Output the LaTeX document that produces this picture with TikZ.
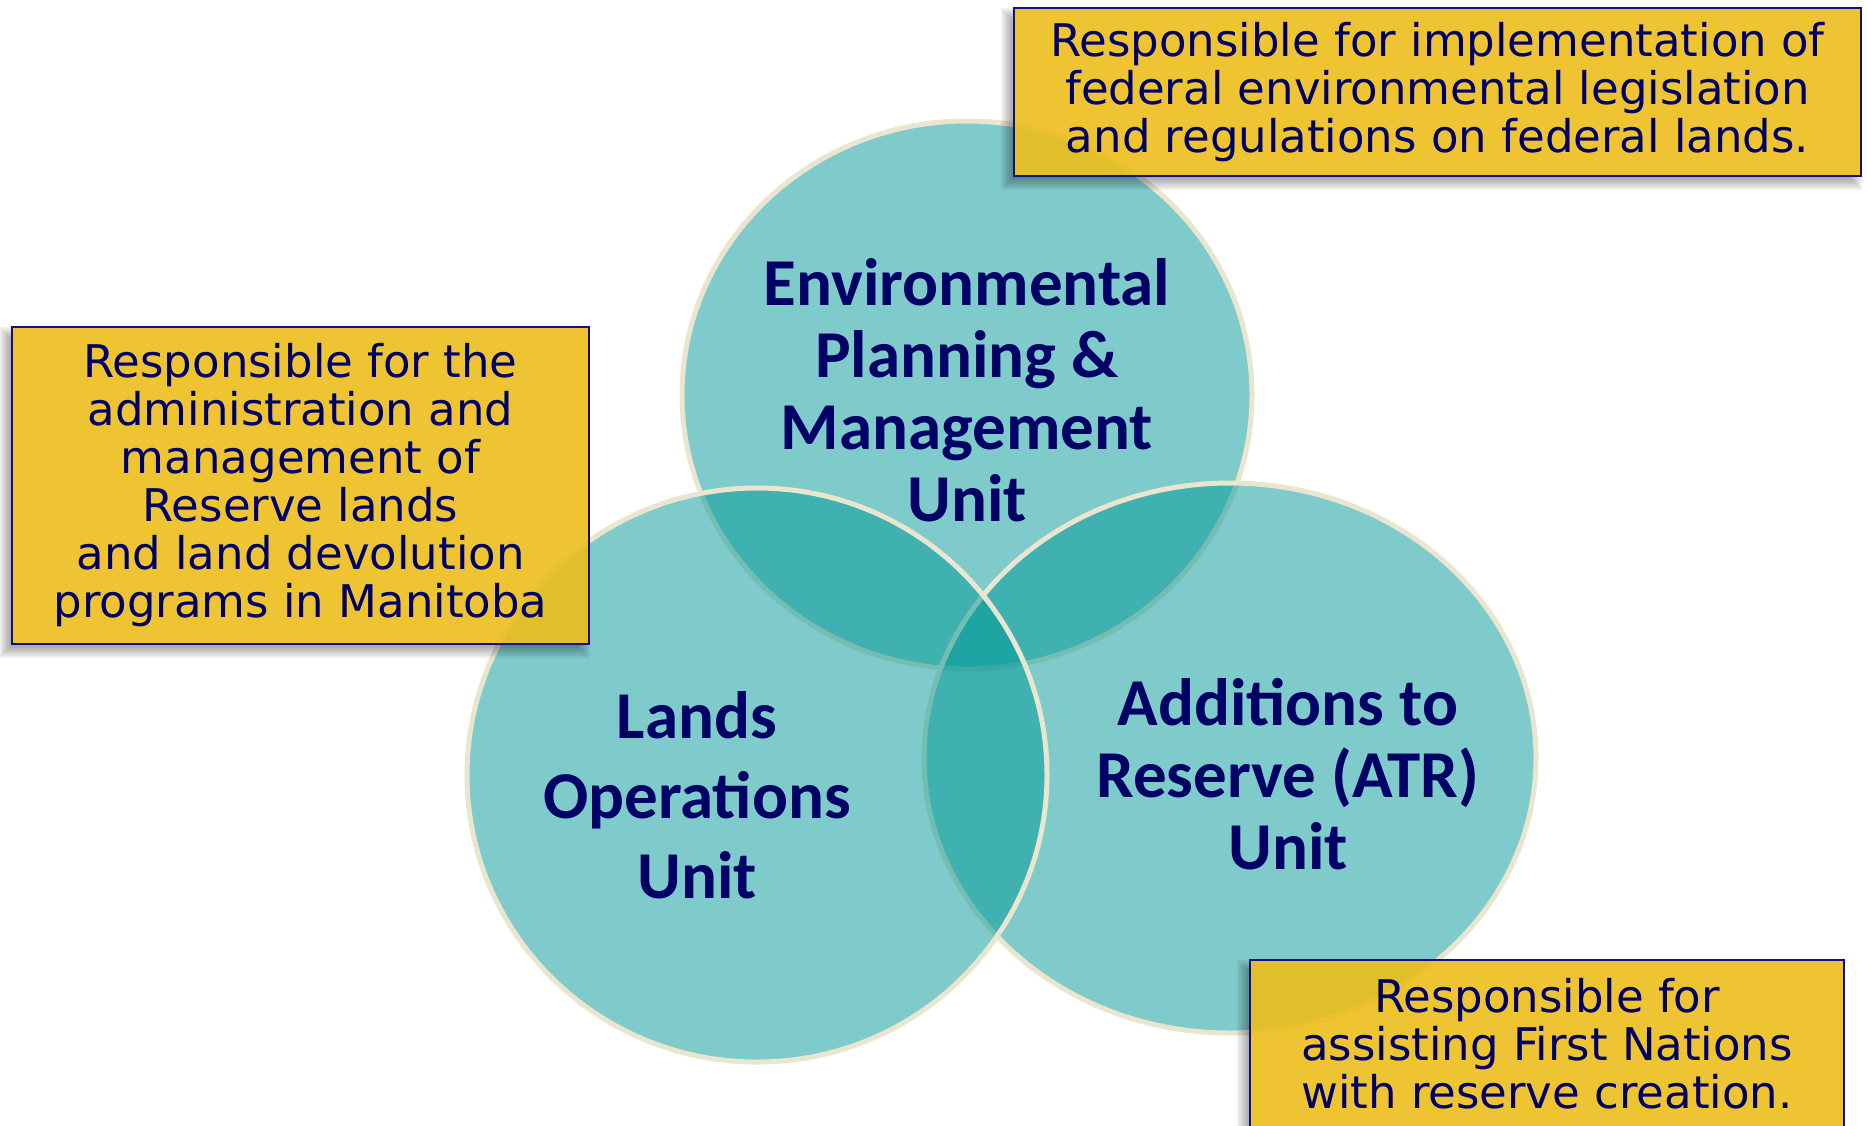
\documentclass[tikz,border=0pt]{standalone}
\usepackage{fontspec}
\setmainfont{DejaVu Sans}
\newfontfamily\calibrifont{Carlito}
\usetikzlibrary{shapes.geometric}
\pgfdeclarelayer{back}
\pgfdeclarelayer{mid}
\pgfsetlayers{back,mid,main}
\definecolor{tealbase}{RGB}{0,151,151}
\definecolor{rimcol}{RGB}{233,229,206}
\definecolor{navytext}{RGB}{0,0,102}
\definecolor{boxyellow}{RGB}{236,190,28}
\definecolor{boxline}{RGB}{16,16,140}
\tikzset{
  venn/.style={ellipse, inner sep=0pt, outer sep=0pt, fill=tealbase, fill opacity=0.5, draw=rimcol, draw opacity=1, line width=5pt},
  unitlabel/.style={align=center, text=navytext, inner sep=0pt, font=\calibrifont\bfseries\fontsize{67pt}{72pt}\selectfont},
  infobox/.style={rectangle, draw=boxline, line width=2pt, fill=boxyellow, fill opacity=0.9, text opacity=1, text=navytext, align=center, inner sep=0pt, font=\fontsize{45pt}{48pt}\selectfont},
}
\begin{document}
\begin{tikzpicture}[x=1pt,y=-1pt]
\useasboundingbox (0,0) rectangle (1867,1125);
\begin{pgfonlayer}{back}
\node[venn, minimum width=570pt, minimum height=548pt] (envc) at (967,395) {};
\node[venn, minimum width=612pt, minimum height=550pt] (atrc) at (1230,758) {};
\node[venn, minimum width=580pt, minimum height=574pt] (landc) at (757,775) {};
\end{pgfonlayer}

\node[unitlabel] (envl) at (967,390) {Environmental\\Planning \&\\Management\\Unit};
\node[unitlabel, font=\calibrifont\bfseries\fontsize{67pt}{80pt}\selectfont] (landl) at (697,795) {Lands\\Operations\\Unit};
\node[unitlabel] (atrl) at (1288,774) {Additions to\\Reserve (ATR)\\Unit};

\node[infobox, minimum width=847pt, minimum height=168pt] (boxenv) at (1437.5,92) {Responsible for implementation of\\federal environmental legislation\\and regulations on federal lands.};
\node[infobox, minimum width=577pt, minimum height=317pt] (boxland) at (300.5,485.5) {Responsible for the\\administration and\\management of\\Reserve lands\\and land devolution\\programs in Manitoba};
\node[infobox, minimum width=594pt, minimum height=168pt] (boxatr) at (1547,1044) {Responsible for\\assisting First Nations\\with reserve creation.};

\begin{pgfonlayer}{mid}
\foreach \b in {boxenv,boxland,boxatr}{
  \begin{scope}
    \clip (-20,-20) rectangle (1890,1150) (\b.north east) rectangle (\b.south west);
    \foreach \m in {-6,-4,...,6}
      \fill[black, opacity=0.06] ([shift={({-6-\m},{7+\m})}]\b.south west) rectangle ([shift={({-6+\m},{7-\m})}]\b.north east);
  \end{scope}
}
\end{pgfonlayer}
\end{tikzpicture}
\end{document}
